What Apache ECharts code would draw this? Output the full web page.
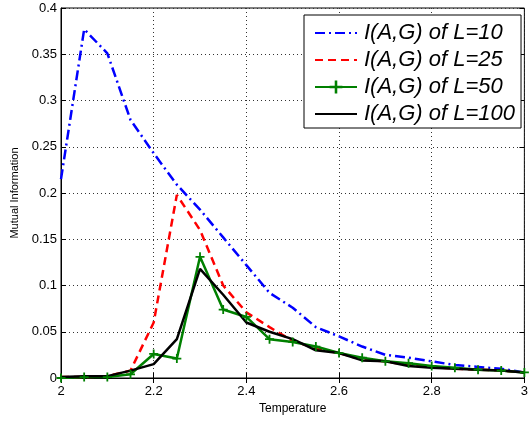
<!DOCTYPE html>
<html><head><meta charset="utf-8">
<script src="https://cdn.jsdelivr.net/npm/echarts@6/dist/echarts.min.js"></script>
<style>html,body{margin:0;padding:0;background:#fff}#c{width:531px;height:421px}</style>
</head><body><div id="c"></div>
<script>
const temps = [2.0,2.05,2.1,2.15,2.2,2.25,2.3,2.35,2.4,2.45,2.5,2.55,2.6,2.65,2.7,2.75,2.8,2.85,2.9,2.95,3.0];
const L10  = [0.215,0.377,0.351,0.279,0.243,0.209,0.182,0.152,0.122,0.092,0.076,0.055,0.045,0.034,0.025,0.022,0.018,0.014,0.012,0.010,0.006];
const L25  = [0.001,0.001,0.002,0.008,0.060,0.198,0.160,0.100,0.071,0.055,0.040,0.032,0.027,0.020,0.018,0.014,0.012,0.010,0.009,0.008,0.006];
const L50  = [0.000,0.001,0.001,0.004,0.026,0.021,0.131,0.074,0.066,0.042,0.039,0.034,0.027,0.022,0.018,0.016,0.013,0.011,0.009,0.008,0.006];
const L100 = [0.001,0.002,0.002,0.008,0.015,0.042,0.118,0.090,0.060,0.050,0.042,0.030,0.027,0.019,0.018,0.013,0.011,0.010,0.009,0.008,0.006];
const names = ['I(A,G) of L=10','I(A,G) of L=25','I(A,G) of L=50','I(A,G) of L=100'];

const pair = arr => temps.map((t,i)=>[t,arr[i]]);
const FONT = 'Liberation Sans, Arial, Helvetica, sans-serif';
const chart = echarts.init(document.getElementById('c'));
const tickCommon = {show:true, inside:true, length:5, lineStyle:{color:'#000'}};
const hideSym = {opacity:0};
chart.setOption({
  animation:false,
  grid:{left:61, right:1, top:8, bottom:43, show:true, borderColor:'#000', borderWidth:1},
  xAxis:[{type:'value', min:2, max:3, interval:0.2, name:'Temperature', nameLocation:'middle', nameGap:22,
    nameTextStyle:{fontFamily:FONT, fontSize:12, color:'#000'},
    axisLine:{show:true, onZero:false, lineStyle:{color:'#000'}}, axisTick:tickCommon,
    axisLabel:{fontFamily:FONT, fontSize:13, color:'#000', margin:7, formatter:v=>String(+v.toFixed(2))},
    splitLine:{show:true, lineStyle:{color:'#333', type:[1,3], width:1}}},
   {type:'value', position:'top', min:2, max:3, interval:0.2, axisLine:{show:false}, axisTick:tickCommon, axisLabel:{show:false}, splitLine:{show:false}}],
  yAxis:[{type:'value', min:0, max:0.4, interval:0.05, name:'Mutual Information', nameLocation:'middle', nameGap:39,
    nameTextStyle:{fontFamily:FONT, fontSize:11, color:'#000'},
    axisLine:{show:true, lineStyle:{color:'#000'}}, axisTick:tickCommon,
    axisLabel:{fontFamily:FONT, fontSize:13, color:'#000', margin:4, formatter:v=>String(+v.toFixed(2))},
    splitLine:{show:true, lineStyle:{color:'#333', type:[1,3], width:1}}},
   {type:'value', position:'right', min:0, max:0.4, interval:0.05, axisLine:{show:false}, axisTick:tickCommon, axisLabel:{show:false}, splitLine:{show:false}}],
  legend:{orient:'vertical', left:304, top:15, width:219, padding:[7,6,3,10], itemGap:5,
    backgroundColor:'#fff', borderColor:'#000', borderWidth:1, borderRadius:0,
    itemWidth:42, itemHeight:16,
    textStyle:{fontFamily:FONT, fontSize:22, fontStyle:'italic', color:'#000', lineHeight:22, padding:[0,0,0,2]},
    data:[{name:names[0], itemStyle:hideSym},{name:names[1], itemStyle:hideSym},{name:names[2]},{name:names[3], itemStyle:hideSym}]},
  series:[
    {name:names[0], type:'line', data:pair(L10), symbol:'none', lineStyle:{color:'#0000ff', width:2.5, type:[10,4,2,4]}, itemStyle:{color:'#0000ff'}},
    {name:names[1], type:'line', data:pair(L25), symbol:'none', lineStyle:{color:'#ff0000', width:2.5, type:[8,5]}, itemStyle:{color:'#ff0000'}},
    {name:names[2], type:'line', data:pair(L50), symbol:'path://M0,4H10V6H0Z M4,0H6V10H4Z', symbolSize:9, showSymbol:true, lineStyle:{color:'#008000', width:2.5}, itemStyle:{color:'#008000'}},
    {name:names[3], type:'line', data:pair(L100), symbol:'none', lineStyle:{color:'#000', width:2.5}, itemStyle:{color:'#000'}}
  ]
});
</script></body></html>
